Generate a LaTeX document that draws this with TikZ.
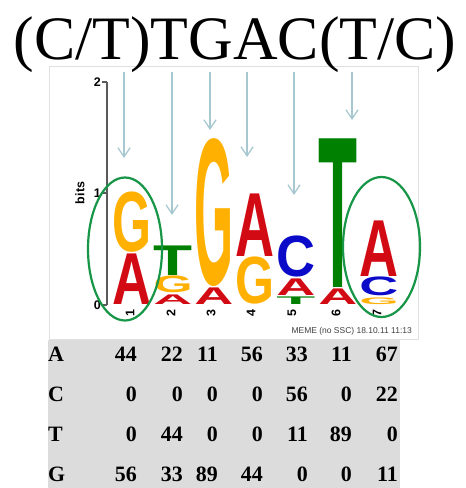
\documentclass[tikz,border=0pt]{standalone}
\usepackage{fontspec}
\setmainfont{Liberation Serif}
\setsansfont{Liberation Sans}
\usepackage{graphicx}
\usetikzlibrary{arrows.meta,shapes.geometric}
\definecolor{nucA}{RGB}{210,10,20}
\definecolor{nucC}{RGB}{10,10,200}
\definecolor{nucG}{RGB}{255,176,0}
\definecolor{nucT}{RGB}{0,128,0}
\definecolor{arrowblue}{RGB}{168,200,208}
\definecolor{ringgreen}{RGB}{22,150,70}
\definecolor{tablegray}{RGB}{220,220,220}
\definecolor{axisgray}{RGB}{90,90,90}
\newcommand\logoL[6]{% name, cx, ybottom, height, colour, letter
  \node[letterbox] (#1) at (#2,#3-0.6) {\resizebox{39bp}{\dimexpr #4bp-1.4bp\relax}{\sffamily\bfseries\color{#5}#6}};}
\newcommand\tabval[4]{% name, xright, row baseline, text
  \node[tabtext, anchor=base east] (#1) at (#2,#3) {#4};}
\begin{document}
\begin{tikzpicture}[x=1bp,y=-1bp,
  letterbox/.style={inner sep=0pt, anchor=south},
  pointer/.style={draw=arrowblue, line width=1.3bp, -{Straight Barb[length=9bp,width=12bp]}},
  ring/.style={draw=ringgreen, line width=2.2bp, ellipse, inner sep=0pt},
  ticklab/.style={font=\sffamily\bfseries\fontsize{12.5}{12.5}\selectfont, text=black, inner sep=0pt},
  collab/.style={font=\sffamily\bfseries\fontsize{12.5}{12.5}\selectfont, rotate=90, inner sep=0pt},
  tabtext/.style={font=\rmfamily\bfseries\fontsize{22}{22}\selectfont, inner sep=0pt}]
\useasboundingbox (0,0) rectangle (466,488);
\fill[white] (0,0) rectangle (466,488);
% logo panel
\draw[black!12, line width=0.8bp] (49,66) rectangle (418,339);
% title
\node[inner sep=0pt, anchor=base, font=\rmfamily\fontsize{62}{62}\selectfont] (title) at (235,60) {(C/T)TGAC(T/C)};
% y axis
\coordinate (ax0) at (107,305);
\coordinate (ax2) at (107,82);
\draw[axisgray, line width=1.3bp] (ax0) -- (ax2);
\foreach \yy/\lab/\nm in {305/0/t0, 193/1/t1, 82/2/t2} {
  \draw[axisgray, line width=1.3bp] (102,\yy) -- (107,\yy);
  \node[ticklab, anchor=east] (\nm) at (101,\yy) {\lab};
}
\node[ticklab, rotate=90] (bits) at (80,193) {bits};
% letters (bottom to top)
\logoL{c1a}{132}{305}{52}{nucA}{A}
\logoL{c1g}{132}{253}{61}{nucG}{G}
\logoL{c2a}{173}{305}{11}{nucA}{A}
\logoL{c2g}{173}{294}{18}{nucG}{G}
\logoL{c2t}{173}{276}{31}{nucT}{T}
\logoL{c3a}{214}{305}{18}{nucA}{A}
\logoL{c3g}{214}{287}{147}{nucG}{G}
\logoL{c4g}{255}{305}{48}{nucG}{G}
\logoL{c4a}{255}{257}{64}{nucA}{A}
\logoL{c5t}{296}{305}{9}{nucT}{T}
\logoL{c5a}{296}{296}{18}{nucA}{A}
\logoL{c5c}{296}{278}{42}{nucC}{C}
\logoL{c6a}{338}{305}{17}{nucA}{A}
\logoL{c6t}{338}{288}{150}{nucT}{T}
\logoL{c7g}{379}{305}{8}{nucG}{G}
\logoL{c7c}{379}{297}{20}{nucC}{C}
\logoL{c7a}{379}{277}{57}{nucA}{A}
% column numbers
\foreach \xx/\n in {130/1,171/2,211/3,251/4,292/5,336/6,377/7} {
  \node[collab] (n\n) at (\xx,313) {\n};
}
% footer
\node[inner sep=0pt, anchor=east, text=black!75, font=\sffamily\fontsize{8.5}{8.5}\selectfont] (foot) at (412,331) {MEME (no SSC) 18.10.11 11:13};
% arrows
\foreach \xx/\ye/\n in {124/158/1,172/215/2,210/130/3,247/157/4,294/195/5,352/120/6} {
  \coordinate (as\n) at (\xx,72);
  \coordinate (ae\n) at (\xx,\ye);
  \draw[pointer] (as\n) -- (ae\n);
}
% green rings
\node[ring, minimum width=74bp, minimum height=143bp] (ring1) at (125,249) {};
\node[ring, minimum width=77bp, minimum height=140bp] (ring7) at (381.5,247) {};
% table
\fill[tablegray] (48,340) rectangle (400,488);
\foreach \base/\lab [count=\r] in {361/A,401/C,441/T,481/G} {
  \node[tabtext, anchor=base west] (row\r) at (48,\base) {\lab};
}
\foreach \r/\base/\vals in {1/361/{44,22,11,56,33,11,67}, 2/401/{0,0,0,0,56,0,22}, 3/441/{0,44,0,0,11,89,0}, 4/481/{56,33,89,44,0,0,11}} {
  \foreach \v [count=\c] in \vals {
    \pgfmathsetmacro\xr{{137,183,218,263,308,352,398}[\c-1]}
    \tabval{v\r\c}{\xr}{\base}{\v}
  }
}
\end{tikzpicture}
\end{document}
